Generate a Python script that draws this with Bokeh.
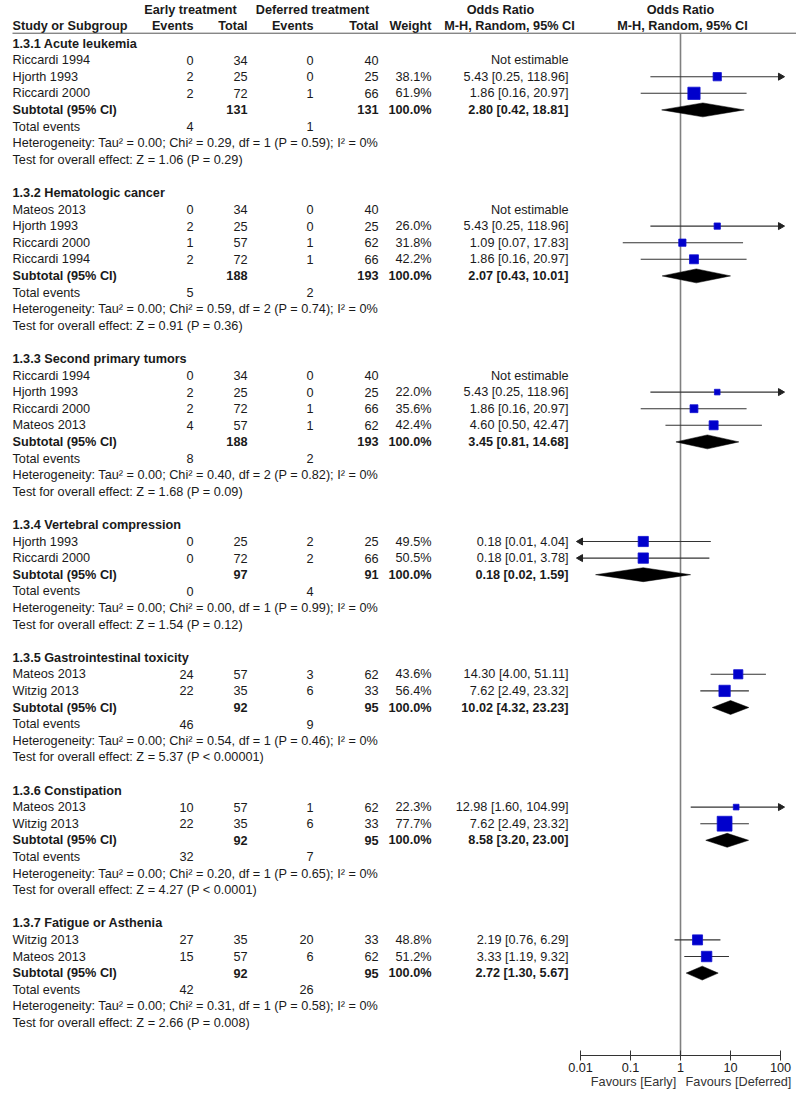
import math
from bokeh.plotting import figure
from bokeh.models import Range1d, LogScale, LogAxis, FixedTicker, ColumnDataSource, CustomJSTickFormatter
from bokeh.core.properties import value
from bokeh.embed import file_html
from bokeh.resources import INLINE

# ---------------- data ----------------
groups = ["1.3.1 Acute leukemia", "1.3.2 Hematologic cancer", "1.3.3 Second primary tumors",
          "1.3.4 Vertebral compression", "1.3.5 Gastrointestinal toxicity", "1.3.6 Constipation",
          "1.3.7 Fatigue or Asthenia"]
group_n = [3, 4, 4, 2, 2, 2, 2]

study_names = ["Riccardi 1994", "Hjorth 1993", "Riccardi 2000",
               "Mateos 2013", "Hjorth 1993", "Riccardi 2000", "Riccardi 1994",
               "Riccardi 1994", "Hjorth 1993", "Riccardi 2000", "Mateos 2013",
               "Hjorth 1993", "Riccardi 2000",
               "Mateos 2013", "Witzig 2013",
               "Mateos 2013", "Witzig 2013",
               "Witzig 2013", "Mateos 2013"]
ev_early = [0, 2, 2, 0, 2, 1, 2, 0, 2, 2, 4, 0, 0, 24, 22, 10, 22, 27, 15]
tot_early = [34, 25, 72, 34, 25, 57, 72, 34, 25, 72, 57, 25, 72, 57, 35, 57, 35, 35, 57]
ev_def = [0, 0, 1, 0, 0, 1, 1, 0, 0, 1, 1, 2, 2, 3, 6, 1, 6, 20, 6]
tot_def = [40, 25, 66, 40, 25, 62, 66, 40, 25, 66, 62, 25, 66, 62, 33, 62, 33, 33, 62]
weight = [None, 38.1, 61.9, None, 26.0, 31.8, 42.2, None, 22.0, 35.6, 42.4,
          49.5, 50.5, 43.6, 56.4, 22.3, 77.7, 48.8, 51.2]
or_est = [None, 5.43, 1.86, None, 5.43, 1.09, 1.86, None, 5.43, 1.86, 4.60,
          0.18, 0.18, 14.30, 7.62, 12.98, 7.62, 2.19, 3.33]
or_lo = [None, 0.25, 0.16, None, 0.25, 0.07, 0.16, None, 0.25, 0.16, 0.50,
         0.01, 0.01, 4.00, 2.49, 1.60, 2.49, 0.76, 1.19]
or_hi = [None, 118.96, 20.97, None, 118.96, 17.83, 20.97, None, 118.96, 20.97, 42.47,
         4.04, 3.78, 51.11, 23.32, 104.99, 23.32, 6.29, 9.32]

sub_tot_early = [131, 188, 188, 97, 92, 92, 92]
sub_tot_def = [131, 193, 193, 91, 95, 95, 95]
sub_or = [2.80, 2.07, 3.45, 0.18, 10.02, 8.58, 2.72]
sub_lo = [0.42, 0.43, 0.81, 0.02, 4.32, 3.20, 1.30]
sub_hi = [18.81, 10.01, 14.68, 1.59, 23.23, 23.00, 5.67]
tev_early = [4, 5, 8, 0, 46, 32, 42]
tev_def = [1, 2, 2, 4, 9, 7, 26]
het_tau2 = ["0.00", "0.00", "0.00", "0.00", "0.00", "0.00", "0.00"]
het_chi2 = ["0.29", "0.59", "0.40", "0.00", "0.54", "0.20", "0.31"]
het_df = [1, 2, 2, 1, 1, 1, 1]
het_p = ["0.59", "0.74", "0.82", "0.99", "0.46", "0.65", "0.58"]
het_i2 = ["0%", "0%", "0%", "0%", "0%", "0%", "0%"]
z_val = ["1.06", "0.91", "1.68", "1.54", "5.37", "4.27", "2.66"]
z_p = ["P = 0.29", "P = 0.36", "P = 0.09", "P = 0.12", "P < 0.00001", "P < 0.0001", "P = 0.008"]

axis_ticks = [0.01, 0.1, 1, 10, 100]
axis_tick_labels = ["0.01", "0.1", "1", "10", "100"]
favours_labels = ["Favours [Early]", "Favours [Deferred]"]

# ---------------- layout constants ----------------
FONT = "Liberation Sans"
FS = "12.7px"
TXT = "#1a1a1a"
X_NAME, X_EV1, X_TOT1, X_EV2, X_TOT2, X_W, X_OR = 12, 193, 247, 313, 378, 431, 568
LO_B, HI_B = axis_ticks[0], axis_ticks[-1]
FAV_POS = [10 ** -0.94, 10 ** 1.16]   # label centres (layout only)

W, H = 796, 1093
BOTTOM = 38
frame_h = H - BOTTOM
ROW = 16.6
TOP0 = 43.0
ZERO_PX, DEC_PX = 680.0, 50.0

p = figure(width=W, height=H, output_backend="svg", toolbar_location=None,
           x_range=Range1d(0, W),
           y_range=Range1d((frame_h - TOP0) / ROW, -TOP0 / ROW),
           x_axis_location=None, y_axis_location=None, min_border=0)
p.min_border_bottom = BOTTOM
p.outline_line_color = None
p.xgrid.visible = False
p.ygrid.visible = False
p.extra_x_ranges = {"or": Range1d(10 ** ((0 - ZERO_PX) / DEC_PX), 10 ** ((W - ZERO_PX) / DEC_PX))}
p.extra_x_scales = {"or": LogScale()}

texts = {}


def add_text(x, y, t, align="left", bold=False):
    d = texts.setdefault((align, bold), {"x": [], "y": [], "t": []})
    d["x"].append(x)
    d["y"].append(y)
    d["t"].append(t)


# header
add_text(190, -2.03, "Early treatment", "center", True)
add_text(312, -2.03, "Deferred treatment", "center", True)
add_text(500, -2.03, "Odds Ratio", "center", True)
add_text(680, -2.03, "Odds Ratio", "center", True)
add_text(X_NAME, -1.08, "Study or Subgroup", "left", True)
add_text(X_EV1, -1.08, "Events", "right", True)
add_text(X_TOT1, -1.08, "Total", "right", True)
add_text(X_EV2, -1.08, "Events", "right", True)
add_text(X_TOT2, -1.08, "Total", "right", True)
add_text(X_W, -1.08, "Weight", "right", True)
add_text(509, -1.08, "M-H, Random, 95% CI", "center", True)
add_text(682, -1.08, "M-H, Random, 95% CI", "center", True)

ci_x0, ci_x1, ci_y = [], [], []
sq_x, sq_y, sq_s = [], [], []
ar_r_y, ar_l_y = [], []
dia_xs, dia_ys = [], []

r = 0
si = 0
for g, n in enumerate(group_n):
    add_text(X_NAME, r, groups[g], "left", True)
    for k in range(n):
        i = si + k
        y = r + 1 + k
        add_text(X_NAME, y, study_names[i])
        add_text(X_EV1, y, str(ev_early[i]), "right")
        add_text(X_TOT1, y, str(tot_early[i]), "right")
        add_text(X_EV2, y, str(ev_def[i]), "right")
        add_text(X_TOT2, y, str(tot_def[i]), "right")
        if or_est[i] is None:
            add_text(X_OR, y, "Not estimable", "right")
        else:
            add_text(X_W, y, f"{weight[i]:.1f}%", "right")
            add_text(X_OR, y, f"{or_est[i]:.2f} [{or_lo[i]:.2f}, {or_hi[i]:.2f}]", "right")
            ci_x0.append(max(or_lo[i], LO_B))
            ci_x1.append(min(or_hi[i], HI_B))
            ci_y.append(y)
            if or_hi[i] > HI_B:
                ar_r_y.append(y)
            if or_lo[i] <= LO_B:
                ar_l_y.append(y)
            sq_x.append(or_est[i])
            sq_y.append(y)
            sq_s.append(2 + 0.165 * weight[i])
    ys = r + n + 1
    add_text(X_NAME, ys, "Subtotal (95% CI)", "left", True)
    add_text(X_TOT1, ys, str(sub_tot_early[g]), "right", True)
    add_text(X_TOT2, ys, str(sub_tot_def[g]), "right", True)
    add_text(X_W, ys, "100.0%", "right", True)
    add_text(X_OR, ys, f"{sub_or[g]:.2f} [{sub_lo[g]:.2f}, {sub_hi[g]:.2f}]", "right", True)
    dia_xs.append([sub_lo[g], sub_or[g], sub_hi[g], sub_or[g]])
    dia_ys.append([ys, ys - 0.42, ys, ys + 0.42])
    add_text(X_NAME, ys + 1, "Total events")
    add_text(X_EV1, ys + 1, str(tev_early[g]), "right")
    add_text(X_EV2, ys + 1, str(tev_def[g]), "right")
    add_text(X_NAME, ys + 2, f"Heterogeneity: Tau\u00b2 = {het_tau2[g]}; Chi\u00b2 = {het_chi2[g]}, "
                             f"df = {het_df[g]} (P = {het_p[g]}); I\u00b2 = {het_i2[g]}")
    add_text(X_NAME, ys + 3, f"Test for overall effect: Z = {z_val[g]} ({z_p[g]})")
    si += n
    r = ys + 5

for (align, bold), d in texts.items():
    src = ColumnDataSource(dict(x=d["x"], y=d["y"], t=d["t"]))
    p.text(x="x", y="y", text="t", source=src, text_align=align, text_baseline="middle",
           text_font=value(FONT), text_font_size=FS, text_color=TXT,
           text_font_style="bold" if bold else "normal")

# header rule
p.segment(x0=[X_NAME], x1=[W], y0=[-0.62], y1=[-0.62], line_color="#555555", line_width=1)

# vertical line of no effect
y_bottom = (frame_h - TOP0) / ROW
p.segment(x0=[1], x1=[1], y0=[-0.62], y1=[y_bottom], x_range_name="or",
          line_color="#808080", line_width=1.6)

# CIs
p.segment(x0=ci_x0, x1=ci_x1, y0=ci_y, y1=ci_y, x_range_name="or",
          line_color="#333333", line_width=1.1)
p.scatter(x=[HI_B] * len(ar_r_y), y=ar_r_y, marker="triangle", size=7, angle=-math.pi / 2,
          x_range_name="or", fill_color="#222222", line_color="#222222")
p.scatter(x=[LO_B] * len(ar_l_y), y=ar_l_y, marker="triangle", size=7, angle=math.pi / 2,
          x_range_name="or", fill_color="#222222", line_color="#222222")
p.scatter(x=sq_x, y=sq_y, size=sq_s, marker="square", x_range_name="or",
          fill_color="#0000CC", line_color="#1010D0", line_width=0.8)
p.patches(xs=dia_xs, ys=dia_ys, x_range_name="or", fill_color="black", line_color="black",
          line_width=0.5)

# axis
ax = LogAxis(x_range_name="or", ticker=FixedTicker(ticks=axis_ticks), bounds=(LO_B, HI_B))
ax.formatter = CustomJSTickFormatter(args=dict(labels=axis_tick_labels), code="return labels[index];")
ax.minor_tick_line_color = None
ax.major_tick_in = 5
ax.major_tick_out = 5
ax.major_label_standoff = 2
ax.axis_line_color = "#333333"
ax.major_tick_line_color = "#333333"
ax.major_label_text_font = FONT
ax.major_label_text_font_size = FS
ax.major_label_text_color = TXT
p.add_layout(ax, "below")

ax2 = LogAxis(x_range_name="or", ticker=FixedTicker(ticks=FAV_POS))
ax2.formatter = CustomJSTickFormatter(args=dict(labels=favours_labels), code="return labels[index];")
ax2.axis_line_color = None
ax2.major_tick_line_color = None
ax2.minor_tick_line_color = None
ax2.major_tick_in = 0
ax2.major_tick_out = 0
ax2.major_label_standoff = 0
ax2.major_label_text_font = FONT
ax2.major_label_text_font_size = FS
ax2.major_label_text_color = "#333333"
p.add_layout(ax2, "below")

open("out.html", "w").write(file_html(p, INLINE))
